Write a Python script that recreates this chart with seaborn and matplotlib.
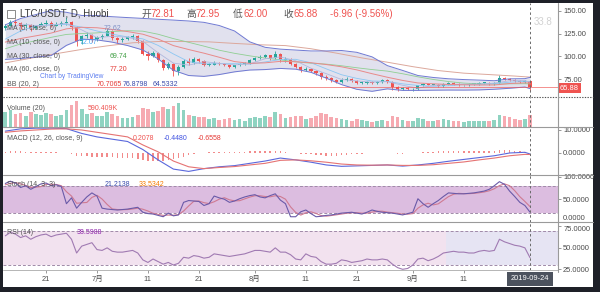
import matplotlib
matplotlib.use("Agg")
import matplotlib.pyplot as plt
from matplotlib.lines import Line2D
from matplotlib.patches import Rectangle
import seaborn as sns

sns.set_theme(style="white")
plt.rcParams["font.family"] = ["Liberation Sans", "Noto Sans CJK SC", "DejaVu Sans"]

# ---------------- data (day 0 = 2019-06-13, day 103 = 2019-09-24) ----------------
days = list(range(104))
opens = [131, 134, 138, 137, 133, 135, 131, 134, 136, 137, 134, 136, 137, 138, 132, 117, 122, 124, 119, 121,
         123, 128, 120, 118, 119, 121, 123, 117, 103, 100, 104, 96, 87, 92, 84, 88, 95, 93, 97, 95,
         91, 91, 93, 92, 90, 88, 90, 92, 93, 96, 98, 99, 101, 98, 103, 96, 97, 92, 88, 85,
         86, 84, 82, 77, 76, 74, 72, 74, 75, 73, 71, 71, 72, 71, 72, 74, 72, 66, 64, 65,
         64, 64, 68, 70, 69, 69, 67, 70, 71, 70, 68, 68, 70, 70, 71, 71, 70, 71, 76, 75,
         74, 73, 72, 72.81]
highs = [136, 140, 141, 138, 137, 136, 135, 138, 140, 139, 138, 139, 143, 139, 133, 124, 127, 125, 123, 125,
         131, 129, 121, 121, 123, 125, 124, 118, 106, 106, 105, 97, 94, 93, 90, 97, 98, 99, 98, 96,
         93, 95, 94, 93, 91, 91, 93, 94, 97, 99, 101, 103, 102, 106, 104, 99, 98, 93, 89, 88,
         87, 85, 83, 79, 77, 75, 76, 77, 76, 74, 73, 73, 73, 73, 75, 75, 73, 67, 66, 66,
         65, 69, 71, 71, 70, 70, 71, 72, 72, 71, 69, 71, 71, 72, 72, 72, 72, 79, 77, 76,
         75, 74, 73.5, 72.95]
lows = [129, 133, 135, 130, 131, 128, 130, 133, 134, 132, 133, 134, 135, 129, 112, 114, 120, 116, 117, 119,
        122, 118, 115, 116, 118, 119, 115, 101, 96, 99, 94, 85, 86, 78, 80, 87, 91, 92, 93, 89,
        89, 90, 91, 89, 87, 87, 89, 91, 92, 95, 97, 98, 96, 97, 94, 94, 91, 87, 83, 84,
        83, 80, 75, 74, 72, 71, 71, 73, 72, 70, 70, 70, 70, 70, 71, 71, 63, 62, 63, 63,
        62, 63, 67, 68, 68, 66, 66, 69, 69, 67, 67, 67, 69, 69, 70, 69, 69, 70, 74, 73,
        72, 71, 71, 62.00]
closes = [134, 138, 137, 133, 135, 131, 134, 136, 137, 134, 136, 137, 138, 132, 117, 122, 124, 119, 121, 123,
          128, 120, 118, 119, 121, 123, 117, 103, 100, 104, 96, 87, 92, 84, 88, 95, 93, 97, 95, 91,
          91, 93, 92, 90, 88, 90, 92, 93, 96, 98, 99, 101, 98, 103, 96, 97, 92, 88, 85, 86,
          84, 82, 77, 76, 74, 72, 74, 75, 73, 71, 71, 72, 71, 72, 74, 72, 66, 64, 65, 64,
          64, 68, 70, 69, 69, 67, 70, 71, 70, 68, 68, 70, 70, 71, 71, 70, 71, 76, 75, 74,
          73, 72, 72.81, 65.88]
volume_k = [720, 820, 650, 700, 560, 760, 620, 580, 700, 640, 560, 600, 850, 1080, 1280, 900, 620, 700, 540, 520,
            760, 640, 520, 420, 450, 500, 600, 950, 870, 720, 800, 1000, 880, 1050, 1180, 820, 600, 560, 480, 500,
            380, 420, 340, 380, 420, 350, 380, 320, 420, 500, 440, 560, 470, 720, 640, 420, 470, 520, 560, 380,
            420, 540, 700, 620, 500, 420, 380, 330, 300, 380, 330, 300, 260, 280, 340, 320, 560, 480, 360, 300,
            320, 430, 380, 300, 280, 340, 380, 350, 300, 320, 260, 300, 280, 310, 280, 300, 360, 600, 560, 480,
            400, 330, 380, 590]

ind_days = [0, 3, 6, 9, 12, 15, 18, 21, 24, 27, 30, 33, 36, 39, 42, 45, 48, 51, 54, 57, 60, 63, 66, 69,
            72, 75, 78, 81, 84, 87, 90, 93, 96, 99, 102, 103]
bb_mid = [115.75, 119.7, 122.65, 125.7, 130.35, 132.05, 131.55, 129.7, 127.35, 124.45, 119.1, 111.9, 107.55,
          103.55, 99.05, 94.3, 92.35, 92.9, 94.55, 94.15, 93.05, 91.05, 88.55, 85.15, 80.95, 77.05, 73.55,
          70.75, 69.8, 69.15, 68.7, 68.5, 68.5, 70.1, 70.89, 70.71]
bb_up = [134.75, 141.7, 146.05, 150.5, 148.55, 145.05, 144.95, 143.7, 142.75, 141.85, 140.9, 140.0, 139.0,
         137.5, 134.0, 128.0, 116.0, 110.0, 108.0, 107.0, 106.0, 106.0, 106.5, 104.5, 99.5, 89.85,
         84.55, 78.95, 76.8, 75.35, 74.5, 73.9, 73.2, 75.3, 75.49, 76.88]
bb_lo = [96.75, 97.7, 99.25, 100.9, 112.15, 119.05, 118.15, 115.7, 111.95, 107.05, 97.3, 84.7, 78.95, 78.0,
         80.0, 83.0, 85.0, 85.5, 86.75, 85.95, 82.45, 76.05, 68.95, 63.75, 61.55, 64.25, 62.55, 62.55, 62.8,
         62.95, 62.9, 63.1, 63.8, 64.9, 66.29, 64.53]
ma5 = [128.8, 135.6, 134, 134.4, 136.4, 129.2, 120.6, 122.2, 121.2, 116.6, 104, 92.6, 90.4, 94.2, 92.4, 90.6,
       91.8, 97.4, 99.4, 95.2, 87, 81, 74.6, 73, 71.6, 72.2, 68.2, 65, 68, 69.2, 69.4, 69.4, 70.6, 73.2, 73.36, 71.54]
ma10 = [119, 128, 133.7, 134.9, 135.1, 132.3, 128, 124.4, 121.5, 119.3, 112.1, 102.7, 94.2, 91.8, 91.9, 92,
        91.6, 93.9, 96.6, 96.8, 93, 86.3, 79.8, 75.8, 72.9, 72.5, 69.8, 68, 67.1, 67.7, 69, 69.4, 70, 71.6, 72.58, 72.07]
ma30 = [108.4, 113.7, 117.3, 121, 124.2, 125.2, 125.9, 127.3, 128.3, 127.8, 124.4, 119.6, 115.5, 111.3, 106.8,
        103.4, 100.6, 98.2, 96.2, 94, 92.5, 91.5, 89.7, 87.5, 85.5, 83.8, 80.9, 77.5, 74.6, 72.3, 70.6, 69.8,
        69.6, 69.8, 69.9, 69.74]
ma60_days = [0, 5, 10, 15, 20, 25, 30, 35, 40, 45, 50, 55, 60, 65, 70, 75, 80, 85, 90, 95, 100, 103]
ma60 = [92.9, 98.0, 103.0, 107.7, 111.6, 115.0, 116.4, 116.4, 116.0, 114.3, 112.8, 111.9, 108.45, 103.6,
        98.35, 93.6, 88.7, 84.4, 81.55, 80.0, 78.35, 77.2]

macd_line = [9.5, 10.5, 10.8, 10.8, 10.6, 8.5, 7.0, 6.0, 5.0, 1.5, -3.0, -7.0, -8.0, -6.8, -6.0, -5.5, -4.5,
             -3.5, -2.2, -3.0, -4.0, -5.2, -5.8, -5.6, -5.4, -5.2, -5.7, -5.2, -4.5, -3.6, -2.8, -2.0, -1.2,
             0.0, 0.3, -0.448]
macd_signal = [9.0, 9.6, 10.0, 10.4, 10.5, 10.0, 9.0, 8.0, 7.0, 3.5, 0.5, -3.5, -6.0, -6.8, -6.3, -5.9, -5.2,
               -4.5, -3.2, -3.0, -3.4, -4.0, -4.8, -5.2, -5.3, -5.2, -5.4, -5.4, -5.1, -4.5, -3.9, -3.0, -2.2,
               -1.2, -0.6, -0.6558]
macd_hist = [0.6, 0.8, 0.9, 0.7, 0.6, 0.5, 0.5, 0.6, 0.6, 0.4, 0.3, 0.2, 0.1,
             -0.3, -1.2, -1.4, -1.5, -1.6, -1.8, -1.8, -1.7, -1.9, -2.0, -2.1, -2.0, -2.2, -2.6, -3.0, -3.3,
             -3.5, -3.6, -3.3, -3.0, -2.5, -2.2, -1.6, -1.0,
             -0.4, 0.0, 0.2, 0.4, 0.4, 0.3, 0.4, 0.4, 0.4, 0.5, 0.6, 0.7, 0.8, 0.9, 1.0, 1.0, 1.0,
             0.9, 0.5, 0.1, -0.2, -0.5, -0.6, -0.6, -0.8, -1.0, -1.2, -1.2, -1.1, -1.0,
             -0.8, -0.6, -0.4, -0.3, -0.2, -0.1, -0.1, 0.0, 0.0, -0.2, -0.3, -0.3, -0.2, 0.0,
             0.2, 0.4, 0.5, 0.6, 0.7, 0.8, 0.9, 0.9, 0.9, 1.0, 1.0, 1.0, 1.0, 1.0, 1.0, 1.0, 1.1, 1.2, 1.2,
             1.0, 0.9, 0.6, 0.2078]

stoch_k = [85, 90, 86, 76, 80, 72, 78, 84, 86, 80, 82, 78, 40, 53, 30, 43, 55, 64, 57, 30,
           28, 27, 26, 27, 28, 30, 32, 21, 18, 17, 14, 11, 19, 13, 15, 43, 47, 46, 45, 36,
           40, 57, 53, 50, 43, 46, 51, 55, 58, 60, 55, 53, 58, 62, 48, 40, 11, 11, 22, 26,
           18, 11, 12, 14, 15, 17, 19, 20, 21, 19, 17, 21, 26, 23, 21, 20, 19, 17, 15, 18,
           21, 51, 40, 32, 40, 47, 56, 64, 63, 62, 62, 63, 64, 66, 68, 72, 80, 89, 83, 68,
           56, 43, 36, 21.2138]
stoch_d = [82, 85, 87, 84, 80.7, 76, 76.7, 78, 82.7, 83.3, 82.7, 80, 66.7, 57, 41, 42, 42.7, 54, 58.7, 50.3,
           38.3, 28.3, 27, 26.7, 27, 28.3, 30, 27.7, 23.7, 18.7, 16.3, 14, 14.7, 14.3, 15.7, 23.7, 35, 45.3, 46, 42.3,
           40.3, 44.3, 50, 53.3, 48.7, 46.3, 46.7, 50.7, 54.7, 57.7, 57.7, 56, 55.3, 57.7, 56, 50, 33, 20.7, 14.7, 19.7,
           22, 18.3, 13.7, 12.3, 13.7, 15.3, 17, 18.7, 20, 20, 19, 19, 21.3, 23.3, 23.3, 21.3, 20, 18.7, 17, 16.7,
           18, 30, 37.3, 41, 37.3, 39.7, 47.7, 55.7, 61, 63, 62.3, 62.3, 63, 64.3, 66, 68.7, 73.3, 80.3, 84, 80,
           69, 55.7, 45, 33.5342]
rsi = [64, 68, 66, 62, 64, 60, 63, 65, 66, 63, 65, 66, 67, 60, 44, 52, 54, 56, 48, 47,
       50, 46, 45, 45, 46, 47, 44, 36, 33, 37, 34, 31, 33, 30, 32, 39, 38, 41, 40, 38,
       39, 43, 42, 41, 40, 41, 42, 43, 45, 47, 47, 46, 45, 50, 45, 45, 42, 37, 36, 43,
       40, 39, 34, 31, 31, 32, 36, 35, 33, 34, 35, 37, 36, 36, 37, 36, 31, 27, 25, 26,
       30, 37, 38, 35, 37, 40, 44, 45, 46, 45, 45, 44, 44, 46, 47, 46, 47, 60, 57, 55,
       53, 52, 50, 38.5988]

date_ticks = [8, 18, 28, 38, 49, 59, 69, 80, 90]
date_labels = ["21", "7月", "11", "21", "8月", "11", "21", "9月", "11"]

# ---------------- figure ----------------
W, H = 600, 292
XMIN, XMAX = -0.45, 108.5
GREEN, RED = "#26a69a", "#ef5350"

fig = plt.figure(figsize=(W / 100, H / 100), dpi=100)
fig.patch.set_facecolor("#1e2028")
fig.add_artist(Rectangle((3 / W, 1 - 287 / H), 590 / W, 284 / H, transform=fig.transFigure,
                         fc="white", ec="none", zorder=-5))


def panel(top, bottom, ylim):
    ax = fig.add_axes([3 / W, 1 - bottom / H, 555 / W, (bottom - top) / H])
    ax.set_facecolor("none")
    ax.set_xlim(XMIN, XMAX)
    ax.set_ylim(*ylim)
    for s in ax.spines.values():
        s.set_visible(False)
    ax.yaxis.tick_right()
    ax.tick_params(axis="y", left=False, right=True, length=2.2, width=0.6, color="#888888",
                   labelsize=5.4, labelcolor="#4a4a4a", pad=1.5)
    ax.tick_params(axis="x", bottom=False, labelbottom=False)
    ax.grid(False)
    return ax


ax_p = panel(3, 97, (55.29, 158.81))
ax_v = panel(97, 127, (0, 1480))
ax_m = panel(127, 175, (-9.57, 11.3))
ax_s = panel(175, 222, (-0.7, 103.8))
ax_r = panel(222, 270, (24.2, 80.1))

# ---- price panel ----
ax_p.fill_between(ind_days, bb_lo, bb_up, color="#dcdcec", alpha=0.85, lw=0, zorder=1)
cols = [GREEN if c >= o else RED for o, c in zip(opens, closes)]
ax_p.vlines(days, lows, highs, colors=cols, lw=0.6, zorder=3)
ax_p.bar(days, [max(abs(c - o), 0.35) for o, c in zip(opens, closes)],
         bottom=[min(o, c) for o, c in zip(opens, closes)], width=0.62, color=cols, lw=0, zorder=3)
sns.lineplot(x=ma60_days, y=ma60, ax=ax_p, color="#dca89c", linewidth=0.7, zorder=4)
sns.lineplot(x=ind_days, y=ma30, ax=ax_p, color="#8fcf92", linewidth=0.6, zorder=4)
sns.lineplot(x=ind_days, y=ma10, ax=ax_p, color="#8cc6f2", linewidth=0.6, zorder=4)
sns.lineplot(x=ind_days, y=ma5, ax=ax_p, color="#b0b8de", linewidth=0.6, zorder=4)
sns.lineplot(x=ind_days, y=bb_up, ax=ax_p, color="#6f79d2", linewidth=0.7, zorder=4)
sns.lineplot(x=ind_days, y=bb_lo, ax=ax_p, color="#6f79d2", linewidth=0.7, zorder=4)
sns.lineplot(x=ind_days, y=bb_mid, ax=ax_p, color="#e88a8a", linewidth=0.7, zorder=4)
ax_p.axhline(closes[-1], color=RED, lw=0.6, alpha=0.75, zorder=5)
ax_p.set_yticks([75, 100, 125, 150])
ax_p.set_yticklabels(["75.00", "100.00", "125.00", "150.00"])

# ---- volume ----
vcols = ["#8fd3c1" if c >= o else "#f6aab1" for o, c in zip(opens, closes)]
ax_v.bar(days, volume_k, width=0.72, color=vcols, lw=0)
ax_v.set_yticks([])

# ---- MACD ----
ax_m.bar(days, macd_hist, width=0.3, color="#f28b8b", lw=0)
sns.lineplot(x=ind_days, y=macd_line, ax=ax_m, color="#5a68dc", linewidth=0.8)
sns.lineplot(x=ind_days, y=macd_signal, ax=ax_m, color="#e57373", linewidth=0.8)
ax_m.set_yticks([0, 10])
ax_m.set_yticklabels(["0.0000", "10.0000"])

# ---- Stoch ----
ax_s.axhspan(20, 80, color="#dcbde0", lw=0)
for lv in (20, 80):
    ax_s.axhline(lv, color="#a08aa8", lw=0.7, ls=(0, (3, 2)))
sns.lineplot(x=days, y=stoch_d, ax=ax_s, color="#cf7a92", linewidth=0.8)
sns.lineplot(x=days, y=stoch_k, ax=ax_s, color="#6a5aa8", linewidth=0.8)
ax_s.set_yticks([0, 50, 100])
ax_s.set_yticklabels(["0.0000", "50.0000", "100.0000"])

# ---- RSI ----
ax_r.axhspan(30, 70, color="#f2e2ef", lw=0)
ax_r.fill_between([86.5, XMAX], 30, 70, color="#e6e4f3", lw=0)
for lv in (30, 70):
    ax_r.axhline(lv, color="#a08aa8", lw=0.7, ls=(0, (3, 2)))
sns.lineplot(x=days, y=rsi, ax=ax_r, color="#a07ab2", linewidth=0.8)
ax_r.set_yticks([25, 50, 75])
ax_r.set_yticklabels(["25.0000", "50.0000", "75.0000"])
ax_r.set_xticks(date_ticks)
ax_r.set_xticklabels(date_labels)
ax_r.tick_params(axis="x", bottom=True, labelbottom=True, length=2, width=0.6, color="#888888",
                 labelsize=5.4, labelcolor="#4a4a4a", pad=2.5)

# keep the touching labels at the stoch/RSI boundary apart
ax_s.get_yticklabels()[0].set_verticalalignment("bottom")
ax_r.get_yticklabels()[2].set_verticalalignment("top")

for ax in (ax_p, ax_v, ax_m, ax_s, ax_r):
    ax.axvline(103, color="#6b6b6b", lw=0.7, ls=(0, (2.5, 2.5)), zorder=6)
    ax.set_xlabel("")
    ax.set_ylabel("")


# ---------------- separators / axis line ----------------
def hline(y, x0=3, x1=593, **kw):
    fig.add_artist(Line2D([x0 / W, x1 / W], [1 - y / H, 1 - y / H], transform=fig.transFigure, **kw))


hline(97, color="#555555", lw=0.8, ls=(0, (1.2, 1.2)))
for yy in (127, 175, 222):
    hline(yy, color="#9a9a9a", lw=0.8)
hline(270, x1=558, color="#b5b5b5", lw=0.7)
fig.add_artist(Line2D([558 / W, 558 / W], [1 - 3 / H, 1 - 272 / H], transform=fig.transFigure,
                      color="#9a9a9a", lw=0.8))


# ---------------- texts ----------------
def T(x, y, s, color="#555555", size=5.0, **kw):
    fig.text(x / W, 1 - y / H, s, color=color, fontsize=size, va="center", ha="left", **kw)


fig.add_artist(Rectangle((7 / W, 1 - 18 / H), 8 / W, 8 / H, transform=fig.transFigure,
                         fc="none", ec="#777777", lw=0.6))
T(20, 14, "LTC/USDT, D, Huobi", "#3a3a3a", 7)
for lab, lx, val, vx in (("开", 141, "72.81", 150), ("高", 186, "72.95", 195),
                         ("低", 233, "62.00", 243), ("收", 283, "65.88", 294)):
    T(lx, 14, lab, "#555555", 7)
    T(vx, 14, val, RED, 7)
T(330, 14, "-6.96 (-9.56%)", RED, 7)

T(7, 28.5, "MA (5, close, 0)")
T(104, 28.5, "72.62", "#7d8fc6")
T(7, 42, "MA (10, close, 0)")
T(80, 42, "72.07", "#42a5f5")
T(7, 56, "MA (30, close, 0)")
T(110, 56, "69.74", "#43a047")
T(7, 69.5, "MA (60, close, 0)")
T(110, 69.5, "77.20", "#e53935")
T(40, 76.5, "Chart by TradingView", "#5d7ef0", 4.8)
T(7, 84, "BB (20, 2)")
T(97, 84, "70.7065", "#e53935")
T(123, 84, "76.8798", "#3949ab")
T(153, 84, "64.5332", "#3949ab")

T(7, 109, "Volume (20)")
T(88, 109, "590.409K", RED)
T(7, 138, "MACD (12, 26, close, 9)")
T(133, 138, "0.2078", RED)
T(164, 138, "-0.4480", "#3f51e0")
T(198, 138, "-0.6558", "#e53935")
T(7, 185, "Stoch (14, 3, 3)")
T(105, 185, "21.2138", "#3949ab")
T(139, 185, "33.5342", "#f57c00")
T(7, 233, "RSI (14)")
T(77, 233, "38.5988", "#8e24aa")

T(534, 22, "33.8", "#d2d2d2", 7)
T(560, 88, "65.88", "white", 5.4,
  bbox=dict(boxstyle="square,pad=0.2", fc=RED, ec="none"))
fig.text(530 / W, 1 - 279 / H, "2019-09-24", color="white", fontsize=5.4, ha="center", va="center",
         bbox=dict(boxstyle="square,pad=0.45", fc="#4c525e", ec="none"))

fig.savefig("out.png", dpi=100, facecolor=fig.get_facecolor())
